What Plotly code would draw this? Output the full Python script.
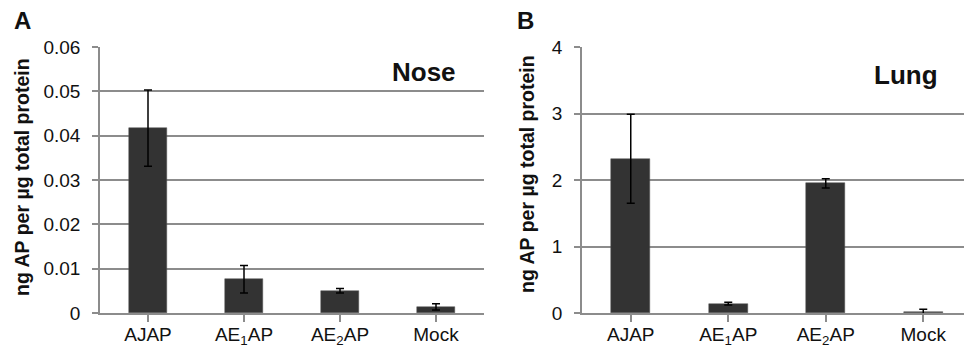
import plotly.graph_objects as go

categories = ["AJAP", "AE<sub>1</sub>AP", "AE<sub>2</sub>AP", "Mock"]
nose_values = [0.0417, 0.0076, 0.0050, 0.0014]
nose_errors = [0.0086, 0.0031, 0.0005, 0.0007]
lung_values = [2.32, 0.14, 1.95, 0.02]
lung_errors = [0.67, 0.02, 0.07, 0.035]
nose_ticks = [0, 0.01, 0.02, 0.03, 0.04, 0.05, 0.06]
nose_ticktext = ["0", "0.01", "0.02", "0.03", "0.04", "0.05", "0.06"]
lung_ticks = [0, 1, 2, 3, 4]

W, H = 964, 348
BAR = "#333333"
GRID = "#8c8c8c"
FONT = "Liberation Sans, Arial, sans-serif"

fig = go.Figure()
x_idx = list(range(len(categories)))
fig.add_trace(go.Bar(x=x_idx, y=nose_values, width=0.4, marker=dict(color=BAR, line=dict(color="#555", width=0.5)),
                     error_y=dict(type="data", array=nose_errors, color="black", thickness=1.5, width=4),
                     xaxis="x", yaxis="y", showlegend=False, hoverinfo="skip"))
fig.add_trace(go.Bar(x=x_idx, y=lung_values, width=0.4, marker=dict(color=BAR, line=dict(color="#555", width=0.5)),
                     error_y=dict(type="data", array=lung_errors, color="black", thickness=1.5, width=4),
                     xaxis="x2", yaxis="y2", showlegend=False, hoverinfo="skip"))

ydom = [(H - 313) / H, (H - 47) / H]
common_x = dict(tickmode="array", tickvals=x_idx, ticktext=categories, showline=True,
                linecolor=GRID, linewidth=1.5, showgrid=False, zeroline=False, automargin=False,
                ticks="outside", tickson="boundaries", ticklen=7, tickcolor=GRID, tickwidth=1.5,
                ticklabelstandoff=-4,
                tickfont=dict(size=19, color="#111", family=FONT))
common_y = dict(showline=True, linecolor=GRID, linewidth=1.5, showgrid=True, gridcolor=GRID, gridwidth=1.5,
                zeroline=False, ticks="outside", ticklen=6, tickcolor=GRID, tickwidth=1.5, automargin=False,
                tickfont=dict(size=19, color="#111", family=FONT), ticklabelstandoff=8)

fig.update_layout(
    width=W, height=H, margin=dict(l=0, r=0, t=0, b=0, autoexpand=False),
    paper_bgcolor="white", plot_bgcolor="white", bargap=0,
    xaxis=dict(domain=[100 / W, 484 / W], range=[-0.5, 3.5], anchor="y", **common_x),
    yaxis=dict(domain=ydom, range=[0, 0.06], tickvals=nose_ticks, ticktext=nose_ticktext, anchor="x", **common_y),
    xaxis2=dict(domain=[582 / W, 1.0], range=[-0.5, -0.5 + 382 / 97.5], anchor="y2", **common_x),
    yaxis2=dict(domain=ydom, range=[0, 4], tickvals=lung_ticks, anchor="x2", **common_y),
)

ann = []
ann.append(dict(text="<b>A</b>", x=22, y=21, size=24))
ann.append(dict(text="<b>B</b>", x=525, y=21, size=24))
ann.append(dict(text="<b>Nose</b>", x=424, y=72, size=26))
ann.append(dict(text="<b>Lung</b>", x=906, y=75, size=26))
ann.append(dict(text="<b>ng AP per µg total protein</b>", x=22, y=177, angle=-90, size=19.5))
ann.append(dict(text="<b>ng AP per µg total protein</b>", x=527, y=174, angle=-90, size=19.5))
for a in ann:
    fig.add_annotation(text=a["text"], x=a["x"] / W, y=1 - a["y"] / H, xref="paper", yref="paper",
                       showarrow=False, xanchor="center", yanchor="middle", textangle=a.get("angle", 0),
                       font=dict(family=FONT, color="#111", size=a["size"]))

fig.write_html("out.html", config={"displayModeBar": False},
               post_script="document.body.style.margin='0px';")
